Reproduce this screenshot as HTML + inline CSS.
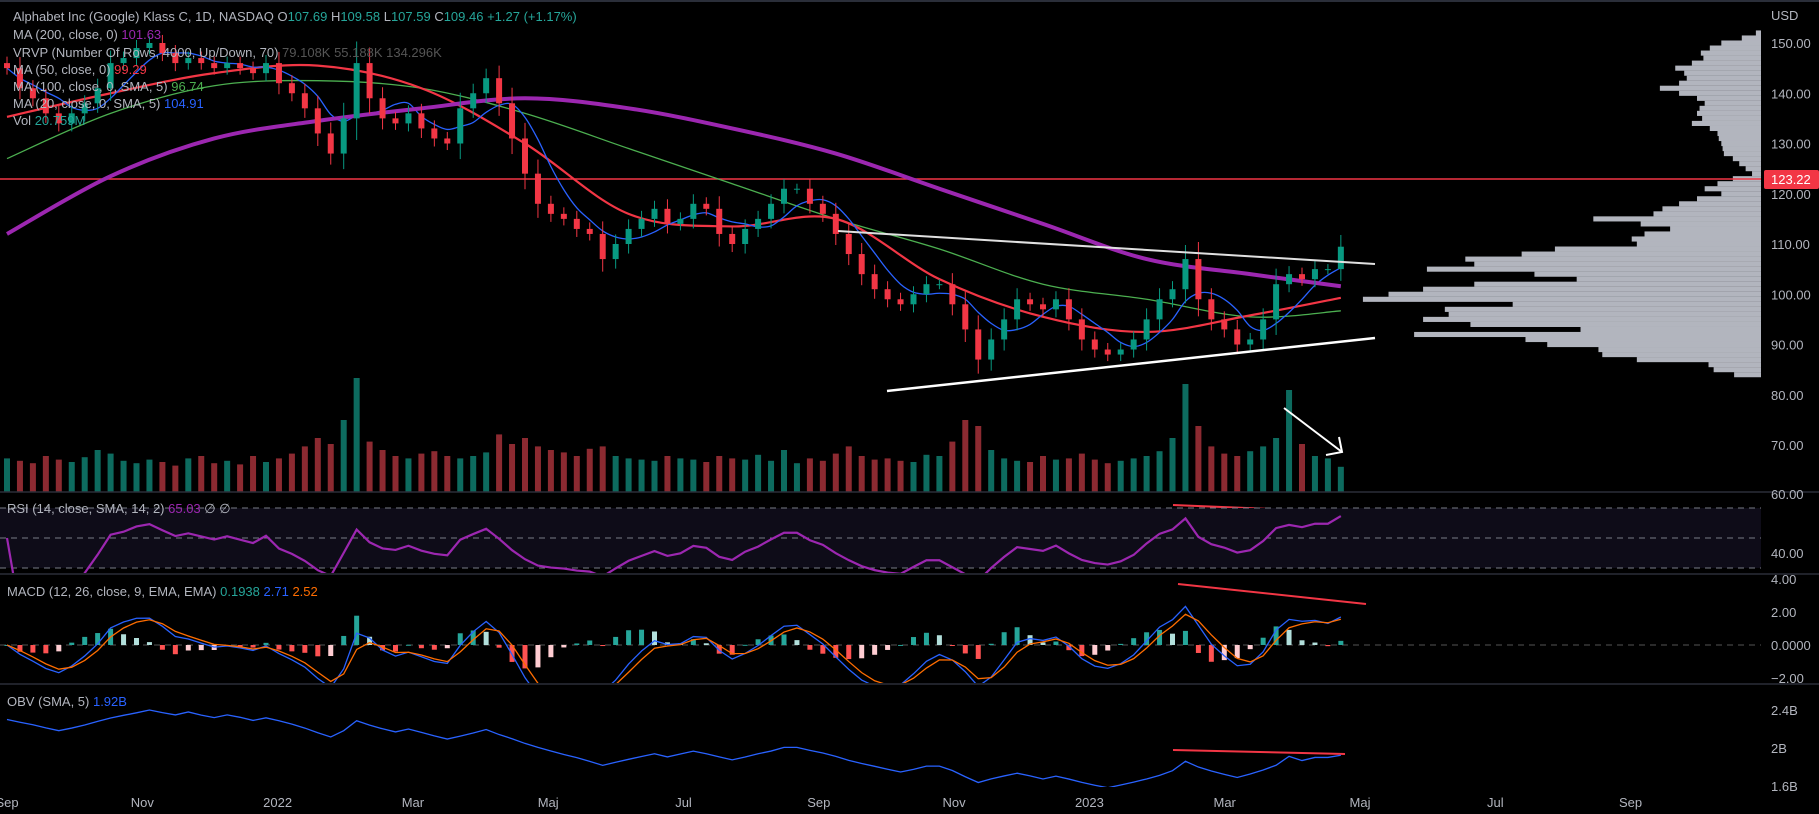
<!DOCTYPE html>
<html><head><meta charset="utf-8">
<style>
html,body{margin:0;padding:0;background:#000;width:1819px;height:814px;overflow:hidden}
svg{display:block;font-family:"Liberation Sans",sans-serif;position:absolute;left:0;top:0}
</style></head>
<body>
<svg id="chart" width="1819" height="814" viewBox="0 0 1819 814" xmlns="http://www.w3.org/2000/svg">
<defs>
<clipPath id="mainClip"><rect x="0" y="2" width="1761" height="490"/></clipPath>
<clipPath id="rsiClip"><rect x="0" y="493" width="1761" height="80"/></clipPath>
<clipPath id="macdClip"><rect x="0" y="575" width="1761" height="108"/></clipPath>
<clipPath id="obvClip"><rect x="0" y="685" width="1761" height="102"/></clipPath>
</defs>
<rect x="0" y="0" width="1819" height="814" fill="#000"/>
<line x1="0" y1="1" x2="1819" y2="1" stroke="#2a2e39" stroke-width="2"/>
<g id="vp"></g>
<g id="vol" clip-path="url(#mainClip)"></g>
<line x1="0" y1="179" x2="1761" y2="179" stroke="#f23645" stroke-width="1.5"/>
<g id="mas" clip-path="url(#mainClip)"></g>
<g id="candles" clip-path="url(#mainClip)"></g>
<g>
<line x1="838" y1="231" x2="1375" y2="264" stroke="#e0e0e0" stroke-width="2"/>
<line x1="887" y1="391" x2="1375" y2="338" stroke="#ffffff" stroke-width="2.5"/>
<line x1="1284" y1="408" x2="1342" y2="452" stroke="#fff" stroke-width="2"/>
<polyline points="1326,455 1342,452 1339,437" fill="none" stroke="#fff" stroke-width="2"/>
<line x1="1173" y1="505" x2="1366" y2="513" stroke="#f23645" stroke-width="2"/>
<line x1="1178" y1="584" x2="1366" y2="604" stroke="#f23645" stroke-width="2"/>
<line x1="1173" y1="750" x2="1345" y2="754" stroke="#f23645" stroke-width="2"/>
</g>
<line x1="0" y1="492" x2="1819" y2="492" stroke="#2a2e39" stroke-width="1.5"/>
<line x1="0" y1="574" x2="1819" y2="574" stroke="#2a2e39" stroke-width="1.5"/>
<line x1="0" y1="684" x2="1819" y2="684" stroke="#2a2e39" stroke-width="1.5"/>
<rect x="0" y="508" width="1761" height="60" fill="#0e0c18"/>
<g stroke="#787b86" stroke-dasharray="6,5" stroke-width="1">
<line x1="0" y1="508" x2="1761" y2="508"/><line x1="0" y1="538" x2="1761" y2="538"/><line x1="0" y1="568" x2="1761" y2="568"/>
</g>
<line x1="0" y1="645" x2="1761" y2="645" stroke="#555" stroke-dasharray="6,5"/>
<g id="rsi" clip-path="url(#rsiClip)"></g>
<g id="macd" clip-path="url(#macdClip)"></g>
<g id="obv" clip-path="url(#obvClip)"></g>
<g id="axes" font-size="13" fill="#b2b5be"></g>
<rect x="1764" y="170" width="55" height="19" rx="2" fill="#f23645"/>
<text x="1771" y="184" font-size="13" fill="#fff">123.22</text>
<g font-size="13" fill="#b2b5be">
<text x="13" y="21">Alphabet Inc (Google) Klass C, 1D, NASDAQ  O<tspan fill="#26a69a">107.69</tspan>  H<tspan fill="#26a69a">109.58</tspan>  L<tspan fill="#26a69a">107.59</tspan>  C<tspan fill="#26a69a">109.46 +1.27 (+1.17%)</tspan></text>
<text x="13" y="39">MA (200, close, 0)  <tspan fill="#9c27b0">101.63</tspan></text>
<text x="13" y="57">VRVP (Number Of Rows, 4000, Up/Down, 70)  <tspan fill="#555">79.108K  55.188K  134.296K</tspan></text>
<text x="13" y="74">MA (50, close, 0)  <tspan fill="#f23645">99.29</tspan></text>
<text x="13" y="91">MA (100, close, 0, SMA, 5)  <tspan fill="#4caf50">96.74</tspan></text>
<text x="13" y="108">MA (20, close, 0, SMA, 5)  <tspan fill="#2962ff">104.91</tspan></text>
<text x="13" y="125">Vol  <tspan fill="#26a69a">20.759M</tspan></text>
<text x="7" y="513">RSI (14, close, SMA, 14, 2)  <tspan fill="#9c27b0">65.03</tspan>  ∅  ∅</text>
<text x="7" y="596">MACD (12, 26, close, 9, EMA, EMA)  <tspan fill="#26a69a">0.1938</tspan>  <tspan fill="#2962ff">2.71</tspan>  <tspan fill="#ff6d00">2.52</tspan></text>
<text x="7" y="706">OBV (SMA, 5)  <tspan fill="#2962ff">1.92B</tspan></text>
</g>
</svg>
<script>
const closes=[145,141,139,136,134,136,138,141,146,147,149,150,148,146,147,146,145,146,145,144,146,142,140,137,132,128,135,146,139,135,134,136,133,131,130,137,140,143,138,131,124,118,116,115,113,112,107,110,113,115,117,114,115,118,117,112,110,113,115,118,121,121,118,116,112,108,104,101,99,98,100,102,102,98,93,87,91,95,99,98,97,99,95,91,89,88,89,91,95,99,101,107,99,95,93,90,91,95,102,104,103,105,105,109.46];
const vols=[28,26,24,30,27,25,29,35,32,26,24,27,25,22,28,30,24,26,23,30,25,28,32,38,45,40,60,95,42,35,30,28,32,34,30,28,30,33,48,40,45,38,35,33,30,36,38,30,28,27,26,30,28,27,25,30,28,27,31,26,35,24,28,26,32,38,30,27,28,26,25,31,30,42,60,55,35,28,26,25,30,27,28,32,27,24,26,28,30,34,45,90,55,38,32,30,34,38,45,85,40,30,28,21];
const maIdx=[0,8,16,24,32,40,48,56,64,72,80,88,96,103];
const ma200=[112,123.5,131,134.5,137,139,137,133,128,121,114,107,104,101.6];
const ma100=[127,136,141.5,142.5,141,136,129,122,115,109,102,99,95.5,96.7];
const ma50=[135.3,140,144,145.5,141,130,116,113.5,115,103,95.5,92.5,95.8,99.3];
const vpTop=152;
const vpVals=[4,15,31,40,47,45,54,67,60,58,64,79,64,50,44,48,50,46,54,40,34,33,31,30,29,22,17,12,7,22,34,44,31,50,64,77,84,131,94,71,91,101,97,161,187,231,224,261,177,144,224,264,291,311,194,247,244,264,227,141,271,184,167,127,124,97,41,37,21];
const priceTicks=[150,140,130,120,110,100,90,80,70];
const macdTicks=[4,2,0,-2];
const obvTicks=[2.4,2.0,1.6];
const xLabels=["Sep","Nov","2022","Mar","Maj","Jul","Sep","Nov","2023","Mar","Maj","Jul","Sep"];
const xLabelMonths=[0,2,4,6,8,10,12,14,16,18,20,22,24];

const NS="http://www.w3.org/2000/svg";
function el(tag,attrs,parent){const e=document.createElementNS(NS,tag);for(const k in attrs)e.setAttribute(k,attrs[k]);parent.appendChild(e);return e;}
function X(i){return 7+i*12.95;}
function Y(p){return 43+(150-p)*5.025;}
function monthX(m){return 7+m*67.65;}
const UP="#089981",DN="#f23645";

const vp=document.getElementById('vp');
vpVals.forEach((v,k)=>{const p=vpTop-k;const w=v*1.28;
 const r=el('rect',{x:1761-w,y:Y(p+0.5),width:w,height:5.1,fill:'#b2b5be'},vp);
 
 });

const vg=document.getElementById('vol');
vols.forEach((v,i)=>{const up=i===0||closes[i]>=closes[i-1];const h=v*1.2;
 const r=el('rect',{x:X(i)-3,y:492-h,width:6,height:h,fill:up?'#0d6b5f':'#8c2a31'},vg);
 
 });

function smoothPath(pts){let d=`M${pts[0][0]},${pts[0][1]}`;for(let i=0;i<pts.length-1;i++){const p0=pts[i-1]||pts[i],p1=pts[i],p2=pts[i+1],p3=pts[i+2]||p2;
 const c1x=p1[0]+(p2[0]-p0[0])/6,c1y=p1[1]+(p2[1]-p0[1])/6,c2x=p2[0]-(p3[0]-p1[0])/6,c2y=p2[1]-(p3[1]-p1[1])/6;d+=` C${c1x},${c1y} ${c2x},${c2y} ${p2[0]},${p2[1]}`;}return d;}
const mg=document.getElementById('mas');
function maLine(arr,color,w,name){const pts=arr.map((v,k)=>[X(maIdx[k]),Y(v)]);
 const p=el('path',{d:smoothPath(pts),fill:'none',stroke:color,'stroke-width':w},mg);
 
 }
maLine(ma100,'#4caf50',1.3,'ma100-line');
maLine(ma50,'#f23645',2.2,'ma50-line');
const ma20=closes.map((c,i)=>{const s=closes.slice(Math.max(0,i-4),i+1);return s.reduce((a,b)=>a+b,0)/s.length;});
{const pts=ma20.map((v,i)=>[X(i),Y(v)]);const p=el('path',{d:smoothPath(pts),fill:'none',stroke:'#2962ff','stroke-width':1.3},mg);
 
 }
maLine(ma200,'#9c27b0',4,'ma200-line');

const cg=document.getElementById('candles');
closes.forEach((c,i)=>{const o=i===0?c+1:closes[i-1];const up=c>=o;const w=Math.abs(c-o)*0.3+1;
 const hi=Math.max(o,c)+w,lo=Math.min(o,c)-w;const col=up?UP:DN;
 const g=el('g',{},cg);
 
 
 el('line',{x1:X(i),x2:X(i),y1:Y(hi),y2:Y(lo),stroke:col,'stroke-width':1},g);
 el('rect',{x:X(i)-3,y:Y(Math.max(o,c)),width:6,height:Math.max(1,Math.abs(Y(o)-Y(c))),fill:col},g);});

const rsi=[];{let ag=0,al=0;const n=12;closes.forEach((c,i)=>{if(i===0){rsi.push(50);return;}const d=c-closes[i-1];const g=Math.max(d,0),l=Math.max(-d,0);
 if(i<=n){ag=(ag*(i-1)+g)/i;al=(al*(i-1)+l)/i;}else{ag=(ag*(n-1)+g)/n;al=(al*(n-1)+l)/n;}
 rsi.push(al===0?100:100-100/(1+ag/al));});}
{const p=el('polyline',{points:rsi.map((r,i)=>`${X(i)},${538-(r-50)*1.5}`).join(' '),fill:'none',stroke:'#9c27b0','stroke-width':2.2},document.getElementById('rsi'));
 
 }

function ema(arr,a){const out=[];arr.forEach((v,i)=>out.push(i===0?v:out[i-1]+a*(v-out[i-1])));return out;}
const e1=ema(closes,0.5),e2=ema(closes,0.267);
const macd=e1.map((v,i)=>v-e2[i]);const sig=ema(macd,0.6);
const MS=10;
const mgp=document.getElementById('macd');
macd.forEach((m,i)=>{const h=m-sig[i];const prev=i?macd[i-1]-sig[i-1]:0;
 const col=h>=0?(h>=prev?'#26a69a':'#b2dfdb'):(h<=prev?'#ff5252':'#ffcdd2');
 const y0=645,y1=645-h*MS*1.8;
 const r=el('rect',{x:X(i)-2.5,y:Math.min(y0,y1),width:5,height:Math.max(1,Math.abs(y1-y0)),fill:col},mgp);
 
 });
{const p=el('polyline',{points:macd.map((m,i)=>`${X(i)},${645-m*MS}`).join(' '),fill:'none',stroke:'#2962ff','stroke-width':1.3},mgp);
 
 
 const s=el('polyline',{points:sig.map((m,i)=>`${X(i)},${645-m*MS}`).join(' '),fill:'none',stroke:'#ff6d00','stroke-width':1.3},mgp);
 
 }

const obv=[];vols.forEach((v,i)=>{if(i===0){obv.push(2.3);return;}const d=closes[i]-closes[i-1];obv.push(obv[i-1]+(d>0?1:d<0?-1:0)*v*1.1/1000);});
{const p=el('polyline',{points:obv.map((o,i)=>`${X(i)},${748-(o-2)*95}`).join(' '),fill:'none',stroke:'#2962ff','stroke-width':1.3},document.getElementById('obv'));
 
 }

const ax=document.getElementById('axes');
{const t=el('text',{x:1771,y:20},ax);t.textContent='USD';
 
 }
priceTicks.forEach(p=>{const t=el('text',{x:1771,y:Y(p)+5},ax);t.textContent=p.toFixed(2);
 
 });
{const t=el('text',{x:1771,y:499},ax);t.textContent='60.00';
 
 
 const t2=el('text',{x:1771,y:558},ax);t2.textContent='40.00';
 
 }
macdTicks.forEach(m=>{const t=el('text',{x:1771,y:645-m*16.5+5},ax);t.textContent=m===0?'0.0000':(m<0?'\u22122.00':m.toFixed(2));
 
 });
obvTicks.forEach(o=>{const t=el('text',{x:1771,y:748-(o-2)*95+5},ax);t.textContent=(o===2?'2':o.toFixed(1))+'B';
 
 });
xLabels.forEach((l,k)=>{const t=el('text',{x:monthX(xLabelMonths[k]),y:807,'text-anchor':'middle'},ax);t.textContent=l;
 
 });
</script>
</body></html>
